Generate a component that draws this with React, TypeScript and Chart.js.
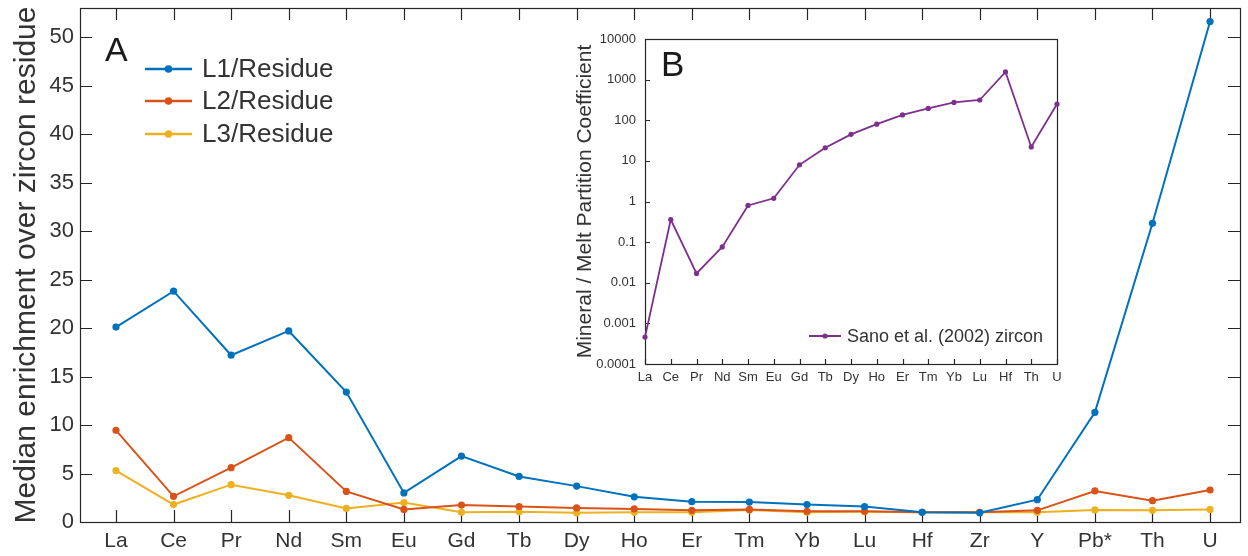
import React, { useEffect, useRef } from 'react';
import { Chart, registerables } from 'chart.js';

Chart.register(...registerables);

// ---------- Data ----------
const elements = ['La', 'Ce', 'Pr', 'Nd', 'Sm', 'Eu', 'Gd', 'Tb', 'Dy', 'Ho', 'Er', 'Tm', 'Yb', 'Lu', 'Hf', 'Zr', 'Y', 'Pb*', 'Th', 'U'];
const l1Residue = [20.1, 23.8, 17.2, 19.7, 13.4, 3.0, 6.8, 4.7, 3.7, 2.6, 2.1, 2.05, 1.8, 1.6, 1.0, 0.95, 2.3, 11.3, 30.8, 51.6];
const l2Residue = [9.45, 2.65, 5.6, 8.7, 3.15, 1.3, 1.75, 1.6, 1.45, 1.35, 1.2, 1.3, 1.1, 1.1, 1.0, 1.0, 1.2, 3.2, 2.2, 3.3];
const l3Residue = [5.3, 1.8, 3.85, 2.75, 1.4, 2.0, 1.0, 1.05, 0.95, 1.0, 1.0, 1.25, 1.0, 1.05, 1.0, 1.0, 1.0, 1.25, 1.2, 1.3];
const mainYTicks = [0, 5, 10, 15, 20, 25, 30, 35, 40, 45, 50];

const insetElements = ['La', 'Ce', 'Pr', 'Nd', 'Sm', 'Eu', 'Gd', 'Tb', 'Dy', 'Ho', 'Er', 'Tm', 'Yb', 'Lu', 'Hf', 'Th', 'U'];
const sanoZircon = [0.00046, 0.36, 0.017, 0.076, 0.8, 1.2, 8, 21, 45, 80, 135, 195, 275, 315, 1550, 22, 250];
const insetYTicks = [0.0001, 0.001, 0.01, 0.1, 1, 10, 100, 1000, 10000];
const insetYTickLabels = ['0.0001', '0.001', '0.01', '0.1', '1', '10', '100', '1000', '10000'];

const mainSeries = [
  { label: 'L1/Residue', values: l1Residue, color: '#0072BD' },
  { label: 'L2/Residue', values: l2Residue, color: '#D95319' },
  { label: 'L3/Residue', values: l3Residue, color: '#EDB120' },
];
const insetColor = '#7E2F8E';

const FONT = '"Liberation Sans", Arial, Helvetica, sans-serif';
const AXIS = '#262626';
const TEXT = '#333333';

// ---------- Plugins ----------
function boxTicksPlugin(len: number, width: number, xTicksTop: boolean, yTicksRight: boolean) {
  return {
    id: 'boxTicks',
    beforeDatasetsDraw(chart: any) {
      const { ctx, chartArea: a, scales } = chart;
      ctx.save();
      ctx.strokeStyle = AXIS;
      ctx.lineWidth = width;
      const xs = scales.x;
      const ys = scales.y;
      ctx.beginPath();
      xs.ticks.forEach((t: any) => {
        const px = Math.round(xs.getPixelForValue(t.value)) + 0.5;
        ctx.moveTo(px, a.bottom);
        ctx.lineTo(px, a.bottom - len);
        if (xTicksTop) {
          ctx.moveTo(px, a.top);
          ctx.lineTo(px, a.top + len);
        }
      });
      ys.ticks.forEach((t: any) => {
        const py = Math.round(ys.getPixelForValue(t.value)) + 0.5;
        ctx.moveTo(a.left, py);
        ctx.lineTo(a.left + len, py);
        if (yTicksRight) {
          ctx.moveTo(a.right, py);
          ctx.lineTo(a.right - len, py);
        }
      });
      ctx.stroke();
      ctx.strokeRect(Math.round(a.left) + 0.5, Math.round(a.top) + 0.5, Math.round(a.right - a.left), Math.round(a.bottom - a.top));
      ctx.restore();
    },
  };
}

const mainDecorPlugin = {
  id: 'mainDecor',
  afterDraw(chart: any) {
    const { ctx } = chart;
    ctx.save();
    ctx.fillStyle = '#1a1a1a';
    ctx.font = `34px ${FONT}`;
    ctx.textBaseline = 'alphabetic';
    ctx.textAlign = 'left';
    ctx.fillText('A', 105, 61);
    const rows = [69, 101, 134];
    mainSeries.forEach((s, i) => {
      const y = rows[i];
      ctx.strokeStyle = s.color;
      ctx.lineWidth = 2.5;
      ctx.beginPath();
      ctx.moveTo(145, y);
      ctx.lineTo(192, y);
      ctx.stroke();
      ctx.fillStyle = s.color;
      ctx.beginPath();
      ctx.arc(168.5, y, 3.8, 0, Math.PI * 2);
      ctx.fill();
      ctx.fillStyle = TEXT;
      ctx.font = `26px ${FONT}`;
      ctx.textBaseline = 'middle';
      ctx.fillText(s.label, 202, y + 1);
    });
    ctx.restore();
  },
};

const insetDecorPlugin = {
  id: 'insetDecor',
  afterDraw(chart: any) {
    const { ctx } = chart;
    ctx.save();
    ctx.fillStyle = '#1a1a1a';
    ctx.font = `35px ${FONT}`;
    ctx.textBaseline = 'alphabetic';
    ctx.textAlign = 'left';
    ctx.fillText('B', 101, 48);
    const y = 308;
    ctx.strokeStyle = insetColor;
    ctx.lineWidth = 2;
    ctx.beginPath();
    ctx.moveTo(249, y);
    ctx.lineTo(281, y);
    ctx.stroke();
    ctx.fillStyle = insetColor;
    ctx.beginPath();
    ctx.arc(265, y, 2.6, 0, Math.PI * 2);
    ctx.fill();
    ctx.fillStyle = TEXT;
    ctx.font = `18px ${FONT}`;
    ctx.textBaseline = 'middle';
    ctx.fillText('Sano et al. (2002) zircon', 287, y + 1);
    ctx.restore();
  },
};

const whiteBg = {
  id: 'whiteBg',
  beforeDraw(chart: any) {
    const { ctx, width, height } = chart;
    ctx.save();
    ctx.fillStyle = '#ffffff';
    ctx.fillRect(0, 0, width, height);
    ctx.restore();
  },
};

const noPad = (s: any) => {
  s.paddingTop = 0;
  s.paddingBottom = 0;
  s.paddingLeft = 0;
  s.paddingRight = 0;
};

export default function App() {
  const mainRef = useRef<HTMLCanvasElement>(null);
  const insetRef = useRef<HTMLCanvasElement>(null);

  useEffect(() => {
    if (!mainRef.current || !insetRef.current) return;

    const main = new Chart(mainRef.current, {
      type: 'line',
      data: {
        datasets: mainSeries.map((s) => ({
          label: s.label,
          data: s.values.map((v, i) => ({ x: i, y: v })),
          borderColor: s.color,
          backgroundColor: s.color,
          borderWidth: 2,
          pointRadius: 3.6,
          pointHoverRadius: 3.6,
          pointBorderWidth: 0,
          tension: 0,
          clip: false as any,
        })),
      },
      options: {
        animation: false,
        responsive: false,
        events: [],
        layout: { padding: { left: 0, right: 8, top: 8, bottom: 0 } },
        plugins: { legend: { display: false }, tooltip: { enabled: false } },
        scales: {
          x: {
            type: 'linear',
            min: -0.625,
            max: 19.52,
            grid: { display: false, drawTicks: false, tickLength: 0 },
            border: { display: false },
            afterBuildTicks: (s: any) => {
              s.ticks = elements.map((_, i) => ({ value: i }));
            },
            afterFit: (s: any) => {
              s.height = 34;
              noPad(s);
            },
            ticks: {
              autoSkip: false,
              maxRotation: 0,
              padding: 7,
              color: TEXT,
              font: { family: FONT, size: 21 },
              callback: (v: any) => elements[Math.round(Number(v))] ?? '',
            },
          },
          y: {
            type: 'linear',
            min: 0,
            max: 53,
            grid: { display: false, drawTicks: false, tickLength: 0 },
            border: { display: false },
            afterBuildTicks: (s: any) => {
              s.ticks = mainYTicks.map((v) => ({ value: v }));
            },
            afterFit: (s: any) => {
              s.width = 80;
              noPad(s);
            },
            ticks: {
              padding: 6,
              color: TEXT,
              font: { family: FONT, size: 22 },
              callback: (v: any) => String(v),
            },
            title: {
              display: true,
              text: 'Median enrichment over zircon residue',
              color: TEXT,
              font: { family: FONT, size: 30 },
              padding: { top: 9, bottom: 0 },
            },
          },
        },
      },
      plugins: [whiteBg, boxTicksPlugin(12, 1.2, true, true), mainDecorPlugin],
    });

    const inset = new Chart(insetRef.current, {
      type: 'line',
      data: {
        datasets: [
          {
            label: 'Sano et al. (2002) zircon',
            data: sanoZircon.map((v, i) => ({ x: i, y: v })),
            borderColor: insetColor,
            backgroundColor: insetColor,
            borderWidth: 1.8,
            pointRadius: 2.6,
            pointHoverRadius: 2.6,
            pointBorderWidth: 0,
            tension: 0,
            clip: false as any,
          },
        ],
      },
      options: {
        animation: false,
        responsive: false,
        events: [],
        layout: { padding: { left: 0, right: 13, top: 11, bottom: 0 } },
        plugins: { legend: { display: false }, tooltip: { enabled: false } },
        scales: {
          x: {
            type: 'linear',
            min: 0,
            max: 16,
            grid: { display: false, drawTicks: false, tickLength: 0 },
            border: { display: false },
            afterBuildTicks: (s: any) => {
              s.ticks = insetElements.map((_, i) => ({ value: i }));
            },
            afterFit: (s: any) => {
              s.height = 26;
              noPad(s);
            },
            ticks: {
              autoSkip: false,
              maxRotation: 0,
              padding: 6,
              color: TEXT,
              font: { family: FONT, size: 13 },
              callback: (v: any) => insetElements[Math.round(Number(v))] ?? '',
            },
          },
          y: {
            type: 'logarithmic',
            min: 0.0001,
            max: 10000,
            grid: { display: false, drawTicks: false, tickLength: 0 },
            border: { display: false },
            afterBuildTicks: (s: any) => {
              s.ticks = insetYTicks.map((v) => ({ value: v }));
            },
            afterFit: (s: any) => {
              s.width = 85;
              noPad(s);
            },
            ticks: {
              padding: 9,
              color: TEXT,
              font: { family: FONT, size: 13 },
              callback: (_v: any, i: number) => insetYTickLabels[i],
            },
            title: {
              display: true,
              text: 'Mineral / Melt Partition Coefficient',
              color: TEXT,
              font: { family: FONT, size: 21 },
              padding: { top: 13, bottom: 0 },
            },
          },
        },
      },
      plugins: [whiteBg, boxTicksPlugin(5, 1.2, false, false), insetDecorPlugin],
    });

    return () => {
      main.destroy();
      inset.destroy();
    };
  }, []);

  return (
    <div style={{ position: 'fixed', left: 0, top: 0, width: 1248, height: 556, background: '#ffffff', overflow: 'hidden' }}>
      <canvas ref={mainRef} width={1248} height={556} style={{ position: 'absolute', left: 0, top: 0 }} />
      <canvas ref={insetRef} width={510} height={362} style={{ position: 'absolute', left: 560, top: 28 }} />
    </div>
  );
}
